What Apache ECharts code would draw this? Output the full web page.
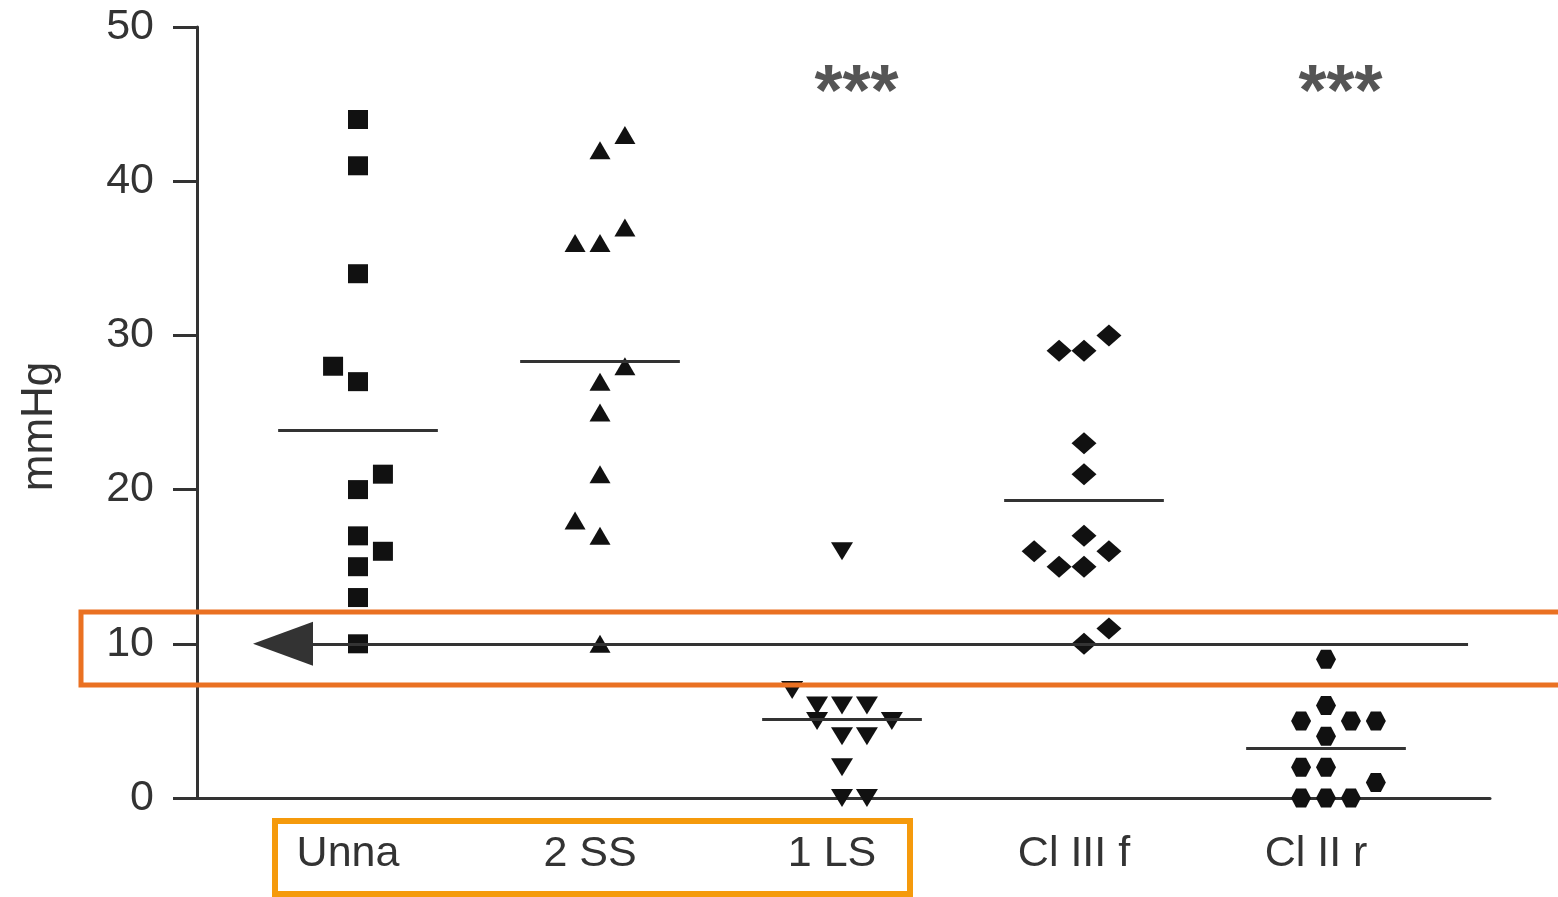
<!DOCTYPE html>
<html><head><meta charset="utf-8">
<script src="https://cdn.jsdelivr.net/npm/echarts@6/dist/echarts.min.js"></script>
<style>html,body{margin:0;padding:0;background:#fff}#c{width:1558px;height:897px}</style>
</head><body><div id="c"></div>
<script>
// ---- data ----
const categories = ['Unna', '2 SS', '1 LS', 'Cl III f', 'Cl II r'];
const yTicks = [0, 10, 20, 30, 40, 50];
const unnaValues  = [44, 41, 34, 28, 27, 21, 20, 17, 16, 15, 13, 10];
const ss2Values   = [43, 42, 37, 36, 36, 28, 27, 25, 21, 18, 17, 10];
const ls1Values   = [16, 7, 6, 6, 6, 5, 5, 4, 4, 2, 0, 0];
const cl3fValues  = [30, 29, 29, 23, 21, 17, 16, 16, 15, 15, 11, 10];
const cl2rValues  = [9, 6, 5, 5, 5, 4, 2, 2, 1, 0, 0, 0];
// horizontal jitter slot of each point inside its column
const unnaSlots = [0, 0, 0, -1, 0, 1, 0, 0, 1, 0, 0, 0];
const ss2Slots  = [1, 0, 1, -1, 0, 1, 0, 0, 0, -1, 0, 0];
const ls1Slots  = [0, -2, -1, 0, 1, -1, 2, 0, 1, 0, 0, 1];
const cl3fSlots = [1, -1, 0, 0, 0, 0, -2, 1, -1, 0, 1, 0];
const cl2rSlots = [0, 0, -1, 1, 2, 0, -1, 0, 2, -1, 0, 1];
const significance = ['', '', '***', '', '***'];
const thresholdValue = 10;

const groups = [
  { values: unnaValues, slots: unnaSlots, symbol: 'rect', size: [20, 19], rotate: 0 },
  { values: ss2Values, slots: ss2Slots, symbol: 'triangle', size: [21, 18], rotate: 0 },
  { values: ls1Values, slots: ls1Slots, symbol: 'triangle', size: [22, 18], rotate: 180 },
  { values: cl3fValues, slots: cl3fSlots, symbol: 'diamond', size: [25, 22], rotate: 0 },
  { values: cl2rValues, slots: cl2rSlots, symbol: 'path://M-0.5,-1 L0.5,-1 L1,0 L0.5,1 L-0.5,1 L-1,0 Z', size: [20, 19], rotate: 0 }
];

const SLOT = 0.103;      // jitter step in category units
const HALF_MEAN = 0.33;  // half width of mean bar
const INK = '#333';
const FONT = 'Liberation Sans, Arial, Helvetica, sans-serif';

const series = groups.map((g, i) => {
  const mean = g.values.reduce((a, b) => a + b, 0) / g.values.length;
  const x = i + 1;
  return {
    type: 'scatter',
    name: categories[i],
    clip: false,
    symbol: g.symbol,
    symbolSize: g.size,
    symbolRotate: g.rotate,
    itemStyle: { color: '#111', opacity: 1 },
    data: g.values.map((v, k) => [x + g.slots[k] * SLOT, v]),
    markLine: {
      silent: true,
      symbol: 'none',
      label: { show: false },
      lineStyle: { color: INK, width: 3, type: 'solid' },
      data: [[{ coord: [x - HALF_MEAN, mean] }, { coord: [x + HALF_MEAN, mean] }]]
    },
    z: 3
  };
});

// threshold line with arrow
series.push({
  type: 'scatter',
  data: [],
  clip: false,
  markLine: {
    silent: true,
    label: { show: false },
    lineStyle: { color: INK, width: 3, type: 'solid' },
    data: [[
      { coord: [0.69, thresholdValue], symbol: 'triangle', symbolSize: [44, 60] },
      { coord: [5.587, thresholdValue], symbol: 'none' }
    ]],
    itemStyle: { color: '#1a1a1a' }
  },
  z: 2
});

// significance stars
series.push({
  type: 'scatter',
  clip: false,
  symbolSize: 0,
  data: significance.map((s, i) => s ? { value: [i + 1 + 0.06, 45.6], name: s } : null).filter(Boolean),
  label: {
    show: true, position: 'inside', formatter: p => p.name,
    fontSize: 72, fontWeight: 'bold', color: '#2a2a2a', fontFamily: FONT
  },
  z: 4
});

const chart = echarts.init(document.getElementById('c'), null, { renderer: 'canvas' });
chart.setOption({
  animation: false,
  backgroundColor: '#fff',
  grid: { left: 197, right: 68, top: 27, bottom: 99 },
  xAxis: {
    type: 'value',
    min: 1 - 161 / 242,
    max: 1 + 1132 / 242,
    splitLine: { show: false },
    axisLine: { show: true, lineStyle: { color: INK, width: 3 } },
    axisTick: { show: false },
    axisLabel: {
      customValues: [1, 2, 3, 4, 5],
      formatter: v => categories[Math.round(v) - 1] || '',
      fontSize: 43, color: INK, fontFamily: FONT, margin: 35,
      padding: [0, 20, 0, 0]
    }
  },
  yAxis: {
    type: 'value',
    min: yTicks[0], max: yTicks[yTicks.length - 1], interval: 10,
    name: 'mmHg',
    nameLocation: 'middle',
    nameGap: 135,
    nameTextStyle: { fontSize: 44, color: INK, fontFamily: FONT, padding: [0, 28, 0, 0] },
    splitLine: { show: false },
    axisLine: { show: true, lineStyle: { color: INK, width: 3 } },
    axisTick: { show: true, length: 24, lineStyle: { color: INK, width: 3 } },
    axisLabel: { fontSize: 43, color: INK, fontFamily: FONT, margin: 43 }
  },
  graphic: [
    { type: 'rect', shape: { x: 81, y: 612, width: 1500, height: 73 },
      style: { fill: 'none', stroke: '#EA7122', lineWidth: 5 }, z: 10 },
    { type: 'rect', shape: { x: 275, y: 821, width: 635, height: 73 },
      style: { fill: 'none', stroke: '#F59A0C', lineWidth: 6 }, z: 10 }
  ],
  series: series
});
</script>
</body></html>
